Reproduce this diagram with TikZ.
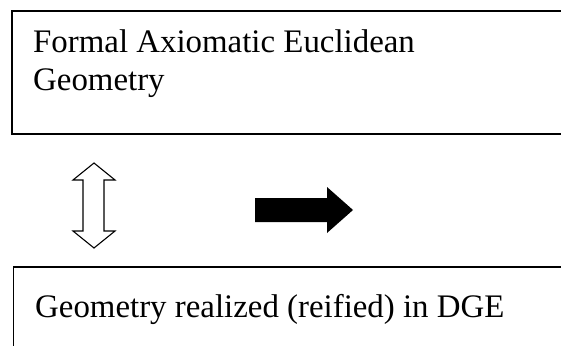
\documentclass[tikz,border=0pt]{standalone}
\usepackage{fontspec}
\setmainfont{Liberation Serif}
\begin{document}
\begin{tikzpicture}[x=1bp,y=1bp,
  boxline/.style={line width=1.4pt,draw=black},
  label/.style={anchor=base west,inner sep=0pt,align=left,font=\fontsize{33}{38}\selectfont},
  hollowarrow/.style={draw=black,fill=white,line width=1.1pt,line join=miter},
  solidarrow/.style={fill=black}]
\useasboundingbox (0,0) rectangle (561,345);
\clip (0,0) rectangle (561,345);
% top box (image y -> 345-y)
\draw[boxline] (580,334) -- (12,334) -- (12,211) -- (580,211);
\node[label] (t1) at (33,255) {Formal Axiomatic Euclidean\\Geometry};
% bottom box
\draw[boxline] (13.5,-10) -- (13.5,78) -- (580,78);
\node[label] (t2) at (35,28) {Geometry realized (reified) in DGE};
% double hollow arrow
\draw[hollowarrow] (94,182) -- (115,165) -- (104,165) -- (104,114) -- (115,114)
  -- (94,97) -- (73,114) -- (83,114) -- (83,165) -- (73,165) -- cycle;
% solid right arrow
\fill[solidarrow] (255,147) -- (327,147) -- (327,158) -- (353,135) -- (327,112)
  -- (327,123) -- (255,123) -- cycle;
\end{tikzpicture}
\end{document}
